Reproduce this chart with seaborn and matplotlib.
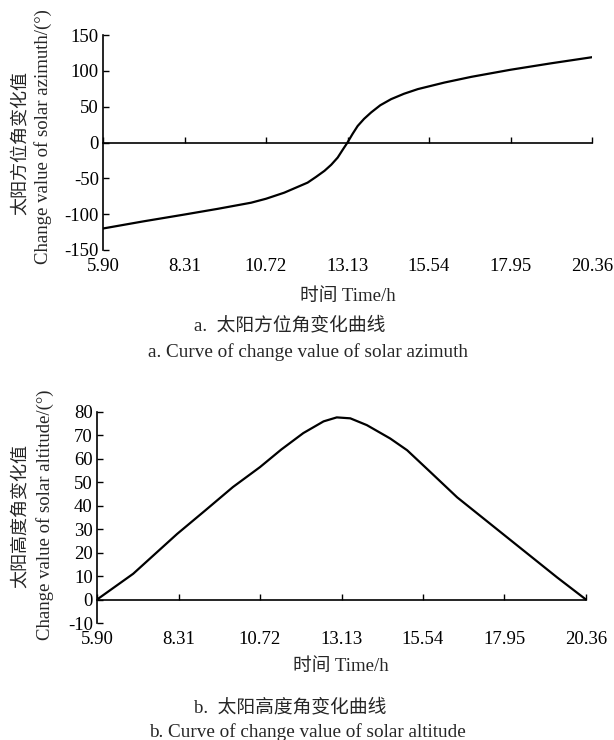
import matplotlib
matplotlib.use("Agg")
import matplotlib.pyplot as plt
import seaborn as sns
import pandas as pd

# values
hours_az = [5.90, 7.10, 8.31, 9.30, 10.28, 10.72, 11.26, 11.95, 12.20, 12.45, 12.65,
            12.84, 12.99, 13.13, 13.28, 13.43, 13.62, 13.83, 14.10, 14.42, 14.80,
            15.21, 16.00, 16.79, 17.95, 19.15, 20.36]
azimuth = [-120, -110, -100.5, -92.5, -84, -78.5, -70, -56, -48, -39.5, -31,
           -21, -10, 0, 12, 23, 33, 42, 52, 60.5, 68,
           74.5, 83.7, 91.6, 101.5, 110.5, 119]

hours_alt = [5.90, 6.97, 8.27, 9.10, 9.92, 10.72, 11.35, 12.00, 12.60, 12.99, 13.39,
             13.88, 14.57, 15.07, 15.75, 16.55, 18.03, 19.51, 20.36]
altitude = [0, 11, 28, 38, 48, 56.5, 64, 71, 76, 77.7, 77.3,
            74.4, 68.7, 63.7, 54.5, 43.6, 26.5, 9.4, 0]

xticks = [5.90, 8.31, 10.72, 13.13, 15.54, 17.95, 20.36]
xtick_labels = ["5.90", "8.31", "10.72", "13.13", "15.54", "17.95", "20.36"]

df_az = pd.DataFrame({"time": hours_az, "value": azimuth})
df_alt = pd.DataFrame({"time": hours_alt, "value": altitude})

sns.set_style("ticks")
fonts = ["Liberation Serif", "Noto Sans CJK SC", "DejaVu Sans"]
plt.rcParams["font.family"] = fonts
plt.rcParams["axes.unicode_minus"] = False

W, H = 614, 740
fig = plt.figure(figsize=(W / 100, H / 100), dpi=100)


def setup(ax, ylim, yticks, pad):
    ax.set_xlim(5.90, 20.36)
    ax.set_ylim(*ylim)
    ax.set_yticks(yticks)
    ax.set_yticklabels([str(v) for v in yticks])
    ax.set_xticks(xticks)
    ax.set_xticklabels(xtick_labels)
    ax.spines["right"].set_visible(False)
    ax.spines["top"].set_visible(False)
    ax.spines["bottom"].set_position(("data", 0))
    for s in ["left", "bottom"]:
        ax.spines[s].set_linewidth(1.2)
        ax.spines[s].set_color("black")
    ax.tick_params(axis="x", direction="in", length=4, width=1, pad=pad,
                   labelsize=13.5, colors="black")
    ax.tick_params(axis="y", direction="in", length=4, width=1, pad=3,
                   labelsize=13.5, colors="black")
    ax.set_xlabel("")
    ax.set_ylabel("")


ax1 = fig.add_axes([103 / W, 1 - 250 / H, 489 / W, 215 / H])
sns.lineplot(data=df_az, x="time", y="value", ax=ax1, color="black", linewidth=1.6)
setup(ax1, (-150, 150), [-150, -100, -50, 0, 50, 100, 150], 83)

ax2 = fig.add_axes([97 / W, 1 - 623 / H, 489 / W, 211 / H])
sns.lineplot(data=df_alt, x="time", y="value", ax=ax2, color="black", linewidth=1.6)
setup(ax2, (-10, 80), [-10, 0, 10, 20, 30, 40, 50, 60, 70, 80], 23)

fs = 13.5
# y axis labels
fig.text(20 / W, 1 - 143 / H, "太阳方位角变化值", rotation=90, ha="center", va="center", fontsize=13)
fig.text(43 / W, 1 - 137 / H, "Change value of solar azimuth/(°)", rotation=90, ha="center", va="center", fontsize=fs)
fig.text(20 / W, 1 - 516 / H, "太阳高度角变化值", rotation=90, ha="center", va="center", fontsize=13)
fig.text(45 / W, 1 - 515 / H, "Change value of solar altitude/(°)", rotation=90, ha="center", va="center", fontsize=fs)

# x axis labels and captions
fig.text(348 / W, 1 - 296 / H, "时间 Time/h", ha="center", va="center", fontsize=fs)
fig.text(290 / W, 1 - 325 / H, "a.  太阳方位角变化曲线", ha="center", va="center", fontsize=fs)
fig.text(308 / W, 1 - 352 / H, "a. Curve of change value of solar azimuth", ha="center", va="center", fontsize=13.8)

fig.text(341 / W, 1 - 666 / H, "时间 Time/h", ha="center", va="center", fontsize=fs)
fig.text(290 / W, 1 - 707 / H, "b.  太阳高度角变化曲线", ha="center", va="center", fontsize=fs)
fig.text(307 / W, 1 - 732 / H, "b. Curve of change value of solar altitude", ha="center", va="center", fontsize=13.8)

fig.savefig("out.png", dpi=100)
